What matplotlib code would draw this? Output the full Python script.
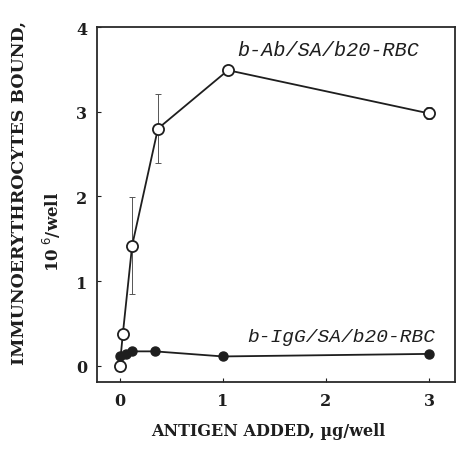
import numpy as np
import matplotlib
matplotlib.use("Agg")
import matplotlib.pyplot as plt

# data
ab_x = [0.0, 0.03, 0.12, 0.37, 1.05, 3.0]
ab_y = [0.0, 0.38, 1.42, 2.80, 3.49, 2.98]
ab_err = [0.0, 0.0, 0.57, 0.41, 0.0, 0.07]

igg_x = [0.0, 0.06, 0.12, 0.34, 1.0, 3.0]
igg_y = [0.12, 0.14, 0.17, 0.17, 0.11, 0.14]

xticks = [0, 1, 2, 3]
yticks = [0, 1, 2, 3, 4]

serif = "DejaVu Serif"
mono = "Liberation Mono"
ink = "#1e1e1e"

fig = plt.figure(figsize=(4.58, 4.52), dpi=100)
ax = fig.add_axes([0.212, 0.153, 0.781, 0.785])

ax.errorbar(ab_x, ab_y, yerr=ab_err, fmt="none", ecolor="#555555",
            elinewidth=0.7, capsize=2.5, capthick=0.7, linestyle=":")
ax.plot(ab_x, ab_y, color=ink, linewidth=1.3, marker="o", markersize=8,
        markerfacecolor="white", markeredgecolor=ink, markeredgewidth=1.3, zorder=3)
ax.plot(igg_x, igg_y, color=ink, linewidth=1.3, marker="o", markersize=6.5,
        markerfacecolor=ink, markeredgecolor=ink, zorder=4)

ax.text(2.02, 3.74, "b-Ab/SA/b20-RBC", family=mono, style="italic",
        fontsize=14.5, ha="center", va="center", color=ink)
ax.text(2.15, 0.35, "b-IgG/SA/b20-RBC", family=mono, style="italic",
        fontsize=14, ha="center", va="center", color=ink)

ax.set_xlim(-0.22, 3.25)
ax.set_ylim(-0.19, 4.0)
ax.set_xticks(xticks)
ax.set_yticks(yticks)
ax.tick_params(direction="in", length=3, width=0.8, labelsize=11.5,
               colors=ink, pad=7)
for lab in ax.get_xticklabels() + ax.get_yticklabels():
    lab.set_family(serif)
    lab.set_fontweight("bold")
for s in ax.spines.values():
    s.set_linewidth(1.3)
    s.set_color("#2a2a2a")

# axis titles as separate texts so they can be placed like the scan
fig.text(0.585, 0.046, "ANTIGEN ADDED, \u00b5g/well",
         family=serif, fontweight="bold", fontsize=11.5, color=ink,
         ha="center", va="center")
fig.text(19 / 458, 1 - 193 / 452, "IMMUNOERYTHROCYTES BOUND,", family=serif,
         fontweight="bold", fontsize=12.5, color=ink, rotation=90,
         ha="center", va="center")
fig.text(52 / 458, 1 - 232 / 452, "10$^{\\ 6}$/well", family=serif,
         fontweight="bold", fontsize=12, color=ink, rotation=90,
         ha="center", va="center")

fig.savefig("out.png", dpi=100)
